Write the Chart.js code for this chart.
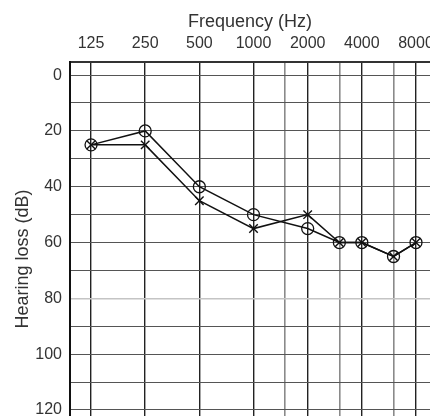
<!DOCTYPE html>
<html>
<head>
<meta charset="utf-8">
<title>Audiogram</title>
<script src="https://cdn.jsdelivr.net/npm/chart.js@4/dist/chart.umd.min.js"></script>
<style>
  html, body { margin: 0; padding: 0; background: #fff; overflow: hidden; }
  body { width: 430px; height: 416px; }
  canvas { display: block; }
</style>
</head>
<body>
<canvas id="audiogram" width="430" height="456"></canvas>
<script>
(function() {
  'use strict';

  // --- Data ---
  const frequencies = [125, 250, 500, 1000, 2000, 3000, 4000, 6000, 8000];
  const circleLoss  = [25, 20, 40, 50, 55, 60, 60, 65, 60];   // O
  const crossLoss   = [25, 25, 45, 55, 50, 60, 60, 65, 60];   // X

  const freqTicks   = [125, 250, 500, 1000, 1500, 2000, 3000, 4000, 6000, 8000];
  const freqLabels  = ['125', '250', '500', '1000', '2000', '4000', '8000'];
  const lossTicks   = [0, 10, 20, 30, 40, 50, 60, 70, 80, 90, 100, 110, 120, 130];
  const lossLabels  = ['0', '20', '40', '60', '80', '100', '120'];

  const FONT = "'Liberation Sans', Arial, sans-serif";
  const TEXT = '#333';

  const toPoints = vals => frequencies.map((f, i) => ({ x: f, y: vals[i] }));
  const isOctave = ctx => freqLabels.includes(String(ctx.tick && ctx.tick.value));

  new Chart(document.getElementById('audiogram'), {
    type: 'line',
    data: {
      datasets: [
        {
          label: 'O',
          data: toPoints(circleLoss),
          borderColor: '#111',
          borderWidth: 1.5,
          pointStyle: 'circle',
          pointRadius: 6,
          pointBorderWidth: 1.3,
          pointBorderColor: '#111',
          pointBackgroundColor: 'rgba(0,0,0,0)',
          tension: 0
        },
        {
          label: 'X',
          data: toPoints(crossLoss),
          borderColor: '#111',
          borderWidth: 1.5,
          pointStyle: 'crossRot',
          pointRadius: 6,
          pointBorderWidth: 1.4,
          pointBorderColor: '#111',
          tension: 0
        }
      ]
    },
    options: {
      responsive: false,
      animation: false,
      layout: { padding: 0, autoPadding: false },
      plugins: {
        legend: { display: false },
        tooltip: { enabled: false }
      },
      scales: {
        x: {
          type: 'logarithmic',
          position: 'top',
          min: 95.5,
          max: 9570,
          afterBuildTicks: s => { s.ticks = freqTicks.map(v => ({ value: v })); },
          afterFit: s => { s.height = 62; s.paddingLeft = 0; s.paddingRight = 0; },
          ticks: {
            autoSkip: false,
            maxRotation: 0,
            padding: 9,
            color: TEXT,
            font: { family: FONT, size: 16 },
            callback: v => freqLabels.includes(String(v)) ? String(v) : ''
          },
          grid: {
            drawTicks: false,
            color: ctx => isOctave(ctx) ? '#222' : '#8a8a8a',
            lineWidth: ctx => isOctave(ctx) ? 1.4 : 1.6
          },
          border: { display: true, color: '#333', width: 2 },
          title: {
            display: true,
            text: 'Frequency (Hz)',
            color: TEXT,
            font: { family: FONT, size: 18 },
            padding: { top: 11, bottom: 0 }
          }
        },
        y: {
          type: 'linear',
          reverse: true,
          min: -4.7,
          max: 136.5,
          afterBuildTicks: s => { s.ticks = lossTicks.map(v => ({ value: v })); },
          afterFit: s => { s.width = 70; s.paddingTop = 0; s.paddingBottom = 0; },
          ticks: {
            autoSkip: false,
            padding: 8,
            color: TEXT,
            font: { family: FONT, size: 16 },
            callback: v => lossLabels.includes(String(v)) ? String(v) : ''
          },
          grid: {
            drawTicks: false,
            color: ctx => (ctx.tick && ctx.tick.value === 80) ? '#c4c4c4' : '#555',
            lineWidth: ctx => (ctx.tick && ctx.tick.value === 80) ? 1.6 : 1.1
          },
          border: { display: true, color: '#111', width: 2 },
          title: {
            display: true,
            text: 'Hearing loss (dB)',
            color: TEXT,
            font: { family: FONT, size: 18 },
            padding: { top: 12, bottom: 0 }
          }
        }
      }
    }
  });
})();
</script>
</body>
</html>
